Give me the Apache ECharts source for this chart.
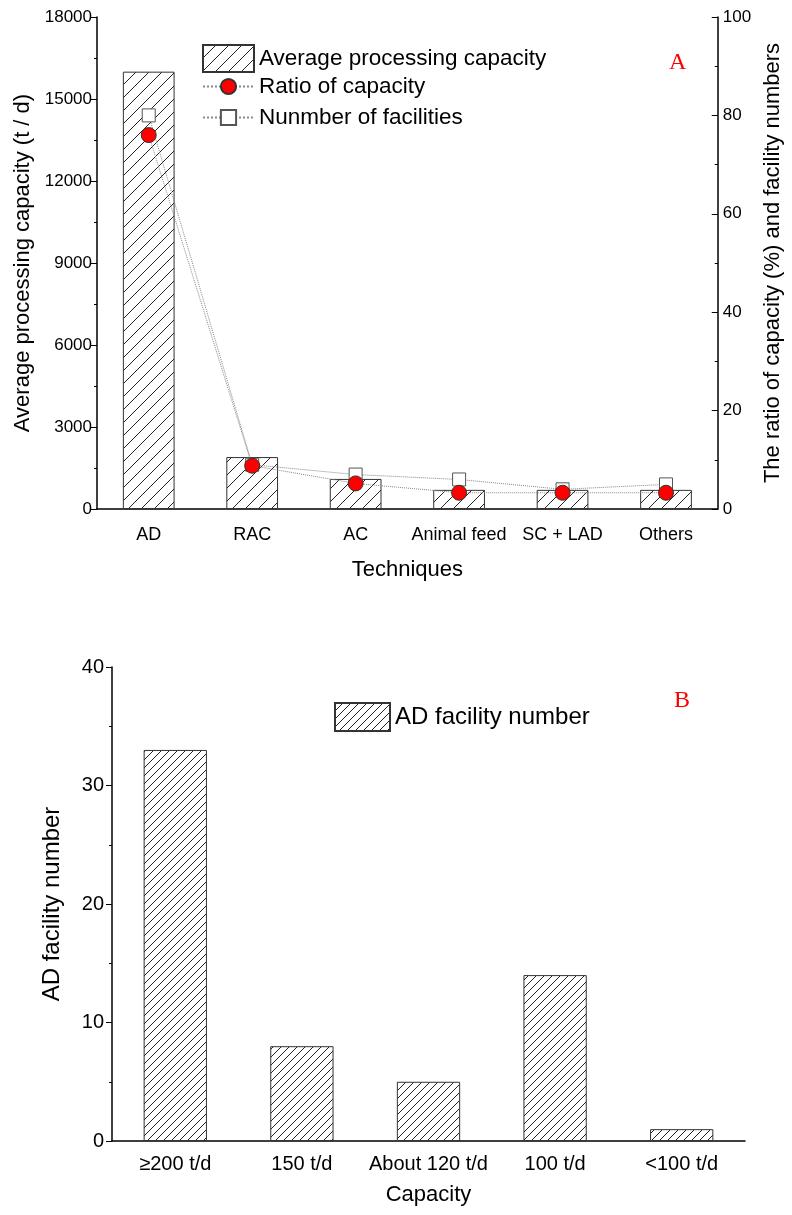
<!DOCTYPE html>
<html>
<head>
<meta charset="utf-8">
<script src="https://cdn.jsdelivr.net/npm/echarts@6/dist/echarts.min.js"></script>
<style>
  html, body { margin: 0; padding: 0; background: #fff; }
  #chart { width: 792px; height: 1215px; }
</style>
</head>
<body>
<div id="chart"></div>
<script>
// panel A
const techniques = ['AD', 'RAC', 'AC', 'Animal feed', 'SC + LAD', 'Others']
const avgCapacity = [16000, 1900, 1100, 700, 700, 700]
const ratioCapacity = [76, 8.8, 5.2, 3.3, 3.3, 3.3]
const facilityNumbers = [80, 9, 7, 6, 4, 5]
// panel B
const capacityClasses = ['≥200 t/d', '150 t/d', 'About 120 t/d', '100 t/d', '<100 t/d']
const adFacilityNumber = [33, 8, 5, 14, 1]

const font = "'Liberation Sans', Arial, sans-serif"

// diagonal hatch used for the bars
function hatch(step) {
  const c = document.createElement('canvas')
  c.width = step
  c.height = step
  const ctx = c.getContext('2d')
  ctx.fillStyle = '#fff'
  ctx.fillRect(0, 0, step, step)
  ctx.strokeStyle = '#222'
  ctx.lineWidth = 1
  ctx.beginPath()
  ctx.moveTo(0, step)
  ctx.lineTo(step, 0)
  ctx.moveTo(-2, 2)
  ctx.lineTo(2, -2)
  ctx.moveTo(step - 2, step + 2)
  ctx.lineTo(step + 2, step - 2)
  ctx.stroke()
  return c
}

const chart = echarts.init(document.getElementById('chart'), null, { renderer: 'canvas' })

const axisText = { color: '#000', fontFamily: font }
const nameText = { color: '#000', fontFamily: font, fontSize: 22 }
const plain = v => String(v)

chart.setOption({
  animation: false,
  backgroundColor: '#fff',
  textStyle: { fontFamily: font },
  grid: [
    { left: 97, right: 52, top: 17, bottom: 706 },
    { left: 112, right: 47, top: 667, bottom: 74 }
  ],
  legend: [
    {
      data: ['Average processing capacity'],
      left: 197, top: 39,
      icon: 'rect', itemWidth: 51, itemHeight: 27,
      selectedMode: false,
      textStyle: { fontSize: 22.5, color: '#000', fontFamily: font }
    },
    {
      data: ['Ratio of capacity', 'Nunmber of facilities'],
      orient: 'vertical',
      left: 197, top: 70,
      itemWidth: 51, itemHeight: 19, itemGap: 8,
      selectedMode: false,
      textStyle: { fontSize: 22.5, color: '#000', fontFamily: font }
    },
    {
      data: ['AD facility number'],
      left: 329, top: 697,
      icon: 'rect', itemWidth: 55, itemHeight: 28,
      selectedMode: false,
      textStyle: { fontSize: 24, color: '#000', fontFamily: font }
    }
  ],
  xAxis: [
    {
      type: 'category',
      gridIndex: 0,
      data: techniques,
      position: 'bottom',
      name: 'Techniques',
      nameLocation: 'middle',
      nameGap: 50,
      nameTextStyle: nameText,
      axisLine: { lineStyle: { color: '#000', width: 1.5 } },
      axisTick: { alignWithLabel: true, length: 9, lineStyle: { color: '#000' } },
      axisLabel: { ...axisText, fontSize: 18, margin: 17, interval: 0 }
    },
    {
      // short ticks at category boundaries
      type: 'category',
      gridIndex: 0,
      data: techniques,
      position: 'bottom',
      axisLine: { show: false },
      axisTick: { length: 5, lineStyle: { color: '#000' } },
      axisLabel: { show: false }
    },
    {
      type: 'category',
      gridIndex: 1,
      data: capacityClasses,
      name: 'Capacity',
      nameLocation: 'middle',
      nameGap: 43,
      nameTextStyle: nameText,
      axisLine: { lineStyle: { color: '#000', width: 1.5 } },
      axisTick: { show: false },
      axisLabel: { ...axisText, fontSize: 20, margin: 13, interval: 0 }
    }
  ],
  yAxis: [
    {
      type: 'value',
      gridIndex: 0,
      min: 0, max: 18000, interval: 3000,
      name: 'Average processing capacity (t / d)',
      nameLocation: 'middle',
      nameGap: 59,
      nameTextStyle: nameText,
      axisLine: { show: true, lineStyle: { color: '#000', width: 1.5 } },
      axisTick: { show: true, length: 6, lineStyle: { color: '#000' } },
      minorTick: { show: true, splitNumber: 2, length: 3, lineStyle: { color: '#000' } },
      splitLine: { show: false },
      axisLabel: { ...axisText, fontSize: 17, margin: 5, formatter: plain }
    },
    {
      type: 'value',
      gridIndex: 0,
      position: 'right',
      min: 0, max: 100, interval: 20,
      name: 'The ratio of capacity (%) and facility numbers',
      nameLocation: 'middle',
      nameGap: 30,
      nameTextStyle: nameText,
      axisLine: { show: true, lineStyle: { color: '#000', width: 1.5 } },
      axisTick: { show: true, inside: true, length: 6, lineStyle: { color: '#000' } },
      minorTick: { show: true, splitNumber: 2, length: 3, lineStyle: { color: '#000' } },
      splitLine: { show: false },
      axisLabel: { ...axisText, fontSize: 17, margin: 5, formatter: plain }
    },
    {
      type: 'value',
      gridIndex: 1,
      min: 0, max: 40, interval: 10,
      name: 'AD facility number',
      nameLocation: 'middle',
      nameGap: 48,
      nameTextStyle: { ...nameText, fontSize: 24 },
      axisLine: { show: true, lineStyle: { color: '#000', width: 1.5 } },
      axisTick: { show: true, length: 6, lineStyle: { color: '#000' } },
      minorTick: { show: true, splitNumber: 2, length: 3, lineStyle: { color: '#000' } },
      splitLine: { show: false },
      axisLabel: { ...axisText, fontSize: 20, margin: 8, formatter: plain }
    }
  ],
  series: [
    {
      name: 'Average processing capacity',
      type: 'bar',
      xAxisIndex: 0,
      yAxisIndex: 0,
      barWidth: '50%',
      itemStyle: {
        color: { image: hatch(13), repeat: 'repeat' },
        borderColor: '#333',
        borderWidth: 1
      },
      data: avgCapacity
    },
    {
      name: 'Nunmber of facilities',
      type: 'line',
      xAxisIndex: 0,
      yAxisIndex: 1,
      symbol: 'rect',
      symbolSize: 13,
      lineStyle: { color: '#888', width: 1, type: 'dotted' },
      itemStyle: { color: '#fff', borderColor: '#555', borderWidth: 1 },
      data: facilityNumbers
    },
    {
      name: 'Ratio of capacity',
      type: 'line',
      xAxisIndex: 0,
      yAxisIndex: 1,
      symbol: 'circle',
      symbolSize: 15,
      lineStyle: { color: '#888', width: 1, type: 'dotted' },
      itemStyle: { color: '#ff0000', borderColor: '#333', borderWidth: 1 },
      data: ratioCapacity
    },
    {
      name: 'AD facility number',
      type: 'bar',
      xAxisIndex: 2,
      yAxisIndex: 2,
      barWidth: '50%',
      itemStyle: {
        color: { image: hatch(8), repeat: 'repeat' },
        borderColor: '#333',
        borderWidth: 1
      },
      data: adFacilityNumber
    }
  ],
  graphic: [
    {
      type: 'text', left: 669, top: 51,
      style: { text: 'A', fill: '#ff0000', font: "24px 'Liberation Serif', 'Times New Roman', serif" }
    },
    {
      type: 'text', left: 674, top: 689,
      style: { text: 'B', fill: '#ff0000', font: "24px 'Liberation Serif', 'Times New Roman', serif" }
    }
  ]
})
</script>
</body>
</html>
